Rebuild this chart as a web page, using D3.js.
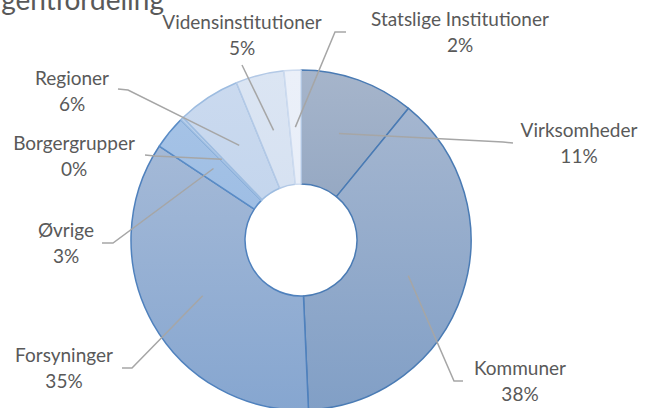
<!DOCTYPE html>
<html>
<head>
<meta charset="utf-8">
<script src="https://cdn.jsdelivr.net/npm/d3@7"></script>
<style>
  body { margin: 0; background: #fff; }
  svg { display: block; }
  text { font-family: Lato, "Open Sans", sans-serif; fill: #595959; }
</style>
</head>
<body>
<svg></svg>
<script>
var width = 658, height = 408;

// data, clockwise from 12 o'clock
var categories = ["Virksomheder", "Kommuner", "Forsyninger", "Øvrige", "Borgergrupper",
                  "Regioner", "Vidensinstitutioner", "Statslige Institutioner"];
var values = [10.9, 38.4, 35.0, 3.2, 0.3, 6.0, 4.6, 1.6];

// styles
var colorTop    = ["#a6b5cb", "#a9b9d1", "#adbfd9", "#a9c5e7", "#bcd2ec", "#cbdaef", "#dbe5f3", "#ebf0f9"];
var colorBottom = ["#7b94b6", "#819fc6", "#86a6d0", "#8fb4e0", "#a9c4e6", "#b9cfea", "#cfdcef", "#e3eaf6"];
var strokeColor = ["#4a7bb4", "#4a7bb4", "#4f81bd", "#5a8cc6", "#9bbbe0", "#9dbce0", "#b3c9e6", "#cddbef"];

// label layout: text centre x, first baseline y, leader anchor, elbow
var labelLayout = [
  {tx: 579, ty: 137, ax: 513, ay: 143, ex: 503, ey: 142},
  {tx: 520, ty: 375, ax: 463, ay: 381, ex: 454, ey: 381},
  {tx: 64,  ty: 362, ax: 122, ay: 368, ex: 132, ey: 368},
  {tx: 66,  ty: 237, ax: 102, ay: 243, ex: 113, ey: 243},
  {tx: 74,  ty: 150, ax: 145, ay: 155, ex: 155, ey: 156},
  {tx: 72,  ty: 85,  ax: 118, ay: 89,  ex: 128, ey: 90},
  {tx: 242, ty: 29,  ax: 242, ay: 65,  ex: 242, ey: 65},
  {tx: 460, ty: 26,  ax: 346, ay: 32,  ex: 335, ey: 32}
];

var cx = 301, cy = 240, outerR = 170, innerR = 56;

var svg = d3.select("svg")
    .attr("width", width)
    .attr("height", height);

var defs = svg.append("defs");

var total = d3.sum(values);
var rows = categories.map(function (c, i) { return {name: c, value: values[i], i: i}; });

var pie = d3.pie()
    .sort(null)
    .value(function (d) { return d.value; });

var arc = d3.arc()
    .innerRadius(innerR)
    .outerRadius(outerR);

var arcs = pie(rows);

// vertical gradients, in the donut group's own coordinates
arcs.forEach(function (d, i) {
    var grad = defs.append("linearGradient")
        .attr("id", "grad" + i)
        .attr("gradientUnits", "userSpaceOnUse")
        .attr("x1", 0).attr("x2", 0)
        .attr("y1", -outerR).attr("y2", outerR);
    grad.append("stop").attr("offset", "0%").attr("stop-color", colorTop[i]);
    grad.append("stop").attr("offset", "100%").attr("stop-color", colorBottom[i]);
});

// title, partly cut off at the top of the frame
svg.append("text")
    .attr("x", 164)
    .attr("y", 10)
    .attr("text-anchor", "end")
    .style("font-size", "28px")
    .text("Kontingentfordeling");

var g = svg.append("g")
    .attr("transform", "translate(" + cx + "," + cy + ")");

g.selectAll(".slice")
    .data(arcs)
    .enter().append("path")
    .attr("class", "slice")
    .attr("d", arc)
    .attr("fill", function (d, i) { return "url(#grad" + i + ")"; })
    .style("stroke", function (d, i) { return strokeColor[i]; })
    .style("stroke-width", 1.5)
    .style("stroke-linejoin", "round");

// leader lines
var line = d3.line();
svg.selectAll(".leader")
    .data(arcs)
    .enter().append("path")
    .attr("class", "leader")
    .attr("d", function (d, i) {
        var c = arc.centroid(d);
        var L = labelLayout[i];
        return line([[L.ax, L.ay], [L.ex, L.ey], [c[0] + cx, c[1] + cy]]);
    })
    .attr("fill", "none")
    .attr("stroke", "#a6a6a6")
    .attr("stroke-width", 1.5);

// labels
var lab = svg.selectAll(".label")
    .data(arcs)
    .enter().append("text")
    .attr("class", "label")
    .attr("text-anchor", "middle")
    .style("font-size", "19px");

lab.append("tspan")
    .attr("x", function (d, i) { return labelLayout[i].tx; })
    .attr("y", function (d, i) { return labelLayout[i].ty; })
    .text(function (d) { return d.data.name; });

lab.append("tspan")
    .attr("x", function (d, i) { return labelLayout[i].tx; })
    .attr("y", function (d, i) { return labelLayout[i].ty + 26; })
    .text(function (d) { return Math.round(d.data.value / total * 100) + "%"; });
</script>
</body>
</html>
